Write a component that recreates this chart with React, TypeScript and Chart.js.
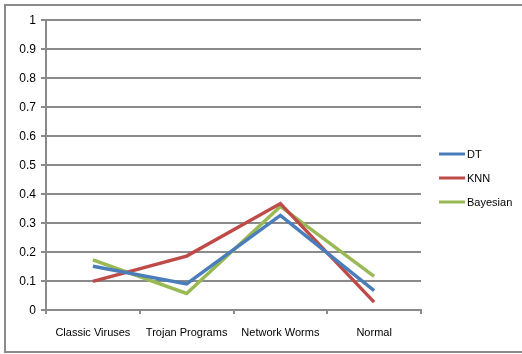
import React, { useEffect, useRef } from "react";
import { Chart, registerables } from "chart.js";

Chart.register(...registerables);

const categories = ["Classic Viruses", "Trojan Programs", "Network Worms", "Normal"];
const seriesNames = ["DT", "KNN", "Bayesian"];
const dtValues = [0.151, 0.09, 0.326, 0.067];
const knnValues = [0.099, 0.186, 0.367, 0.027];
const bayesValues = [0.173, 0.057, 0.357, 0.116];
const seriesColors = ["#4a7ebb", "#be4b48", "#98b954"];
const yTicks = [0, 0.1, 0.2, 0.3, 0.4, 0.5, 0.6, 0.7, 0.8, 0.9, 1];

const FONT = "'Liberation Sans', Arial, sans-serif";
const GRID = "#8a8a8a";

// Outer frame around the whole chart
const framePlugin = {
  id: "frame",
  beforeDraw(chart: any) {
    const ctx = chart.ctx;
    ctx.save();
    ctx.fillStyle = "#ffffff";
    ctx.fillRect(0, 0, chart.width, chart.height);
    ctx.strokeStyle = GRID;
    ctx.lineWidth = 2;
    ctx.strokeRect(5, 5, chart.width + 20, chart.height - 7);
    ctx.restore();
  },
};

// Legend on the right: short coloured line followed by the series name
const sideLegendPlugin = {
  id: "sideLegend",
  afterDraw(chart: any) {
    const ctx = chart.ctx;
    const x0 = chart.chartArea.right + 18;
    const y0 = 154;
    const gap = 24;
    ctx.save();
    chart.data.datasets.forEach((ds: any, i: number) => {
      const y = y0 + i * gap;
      ctx.strokeStyle = ds.borderColor;
      ctx.lineWidth = 3;
      ctx.beginPath();
      ctx.moveTo(x0, y);
      ctx.lineTo(x0 + 26, y);
      ctx.stroke();
      ctx.fillStyle = "#000000";
      ctx.font = `11px ${FONT}`;
      ctx.textBaseline = "middle";
      ctx.textAlign = "left";
      ctx.fillText(ds.label, x0 + 28, y + 0.5);
    });
    ctx.restore();
  },
};

export default function App() {
  const ref = useRef<HTMLCanvasElement | null>(null);

  useEffect(() => {
    if (!ref.current) return;
    const values = [dtValues, knnValues, bayesValues];
    const chart = new Chart(ref.current, {
      type: "line",
      data: {
        labels: categories,
        datasets: seriesNames.map((name, i) => ({
          label: name,
          data: values[i],
          borderColor: seriesColors[i],
          backgroundColor: seriesColors[i],
          borderWidth: 3.4,
          pointRadius: 0,
          tension: 0,
          fill: false,
        })),
      },
      options: {
        responsive: false,
        animation: false,
        devicePixelRatio: 1,
        layout: { padding: { left: 0, top: 20, right: 101, bottom: 0 } },
        plugins: {
          legend: { display: false },
          tooltip: { enabled: false },
        },
        scales: {
          x: {
            type: "category",
            offset: true,
            grid: {
              offset: true,
              drawOnChartArea: false,
              drawTicks: true,
              tickLength: 4,
              color: GRID,
              lineWidth: 2,
            },
            border: { color: GRID, width: 2 },
            ticks: {
              color: "#000000",
              font: { family: FONT, size: 11 },
              padding: 12,
              maxRotation: 0,
              autoSkip: false,
            },
            afterFit(scale: any) {
              scale.height = 44;
            },
          },
          y: {
            min: 0,
            max: 1,
            afterBuildTicks(scale: any) {
              scale.ticks = yTicks.map((v) => ({ value: v }));
            },
            grid: {
              color: GRID,
              lineWidth: 2,
              drawTicks: true,
              tickLength: 5,
            },
            border: { color: GRID, width: 2 },
            ticks: {
              color: "#000000",
              font: { family: FONT, size: 12 },
              padding: 5,
              labelOffset: 1,
              callback: (v: any) => String(Math.round(Number(v) * 10) / 10),
            },
            afterFit(scale: any) {
              scale.width = 46;
            },
          },
        },
      },
      plugins: [framePlugin, sideLegendPlugin],
    });
    return () => chart.destroy();
  }, []);

  return (
    <canvas
      ref={ref}
      width={522}
      height={354}
      style={{ position: "fixed", left: 0, top: 0, width: 522, height: 354, display: "block" }}
    />
  );
}
